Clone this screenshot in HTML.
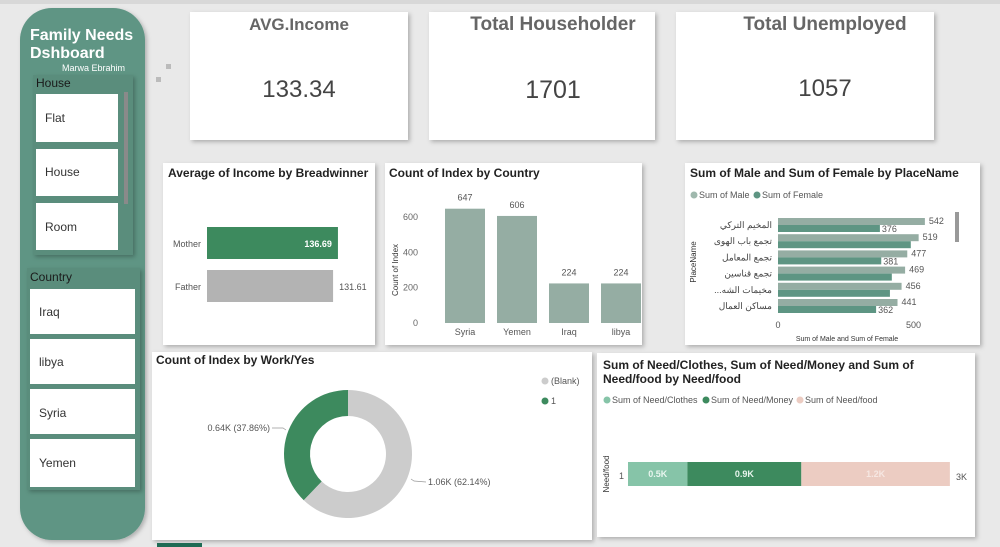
<!DOCTYPE html>
<html><head><meta charset="utf-8"><style>
html,body{margin:0;padding:0;background:#e8e8e8;width:1000px;height:547px;overflow:hidden;font-family:"Liberation Sans","Noto Sans CJK SC",sans-serif}
svg text{font-family:"Liberation Sans","Noto Sans CJK SC",sans-serif}
</style></head><body>
<svg id="dash" width="1000" height="547" viewBox="0 0 1000 547" xmlns="http://www.w3.org/2000/svg">
<defs><filter id="sh" x="-10%" y="-10%" width="120%" height="120%"><feDropShadow dx="2" dy="2" stdDeviation="2" flood-color="#000" flood-opacity="0.25"/></filter></defs>
<rect x="0" y="0" width="1000" height="547" fill="#e9e9e9"/>
<rect x="0" y="0" width="1000" height="4" fill="#d8d8d8"/>
<!-- sidebar -->
<g>
<rect x="20" y="8" width="125" height="532" rx="32" fill="#5f9584" filter="url(#sh)"/>
<text x="30" y="40" font-size="16" font-weight="bold" fill="#fff">Family Needs</text>
<text x="30" y="58" font-size="16" font-weight="bold" fill="#fff">Dshboard</text>
<text x="62" y="71" font-size="9" fill="#fff">Marwa Ebrahim</text>
<rect x="33" y="75" width="100" height="180" fill="#5a8d7c" filter="url(#sh)"/>
<text x="36" y="87" font-size="12" fill="#1a1a1a">House</text>
<rect x="124" y="92" width="4" height="112" fill="#8a8a8a"/>
<g><rect x="36" y="94" width="82" height="48" fill="#fff"/><text x="45" y="122" font-size="12" fill="#333">Flat</text></g>
<g><rect x="36" y="149" width="82" height="47" fill="#fff"/><text x="45" y="176" font-size="12" fill="#333">House</text></g>
<g><rect x="36" y="203" width="82" height="47" fill="#fff"/><text x="45" y="231" font-size="12" fill="#333">Room</text></g>
<rect x="27" y="268" width="113" height="222" fill="#5a8d7c" filter="url(#sh)"/>
<text x="30" y="281" font-size="12" fill="#1a1a1a">Country</text>
<g><rect x="30" y="289" width="105" height="45" fill="#fff"/><text x="39" y="316" font-size="12" fill="#333">Iraq</text></g>
<g><rect x="30" y="339" width="105" height="45" fill="#fff"/><text x="39" y="366" font-size="12" fill="#333">libya</text></g>
<g><rect x="30" y="389" width="105" height="45" fill="#fff"/><text x="39" y="417" font-size="12" fill="#333">Syria</text></g>
<g><rect x="30" y="439" width="105" height="48" fill="#fff"/><text x="39" y="467" font-size="12" fill="#333">Yemen</text></g>
</g>
<rect x="166" y="64" width="5" height="5" fill="#bbb"/><rect x="156" y="77" width="5" height="5" fill="#bbb"/>
<!-- KPI cards -->
<g><rect x="190" y="12" width="218" height="128" fill="#fff" filter="url(#sh)"/>
<text x="299" y="30" font-size="17" font-weight="bold" fill="#666" text-anchor="middle">AVG.Income</text>
<text x="299" y="97" font-size="24" fill="#444" text-anchor="middle">133.34</text></g>
<g><rect x="429" y="12" width="226" height="128" fill="#fff" filter="url(#sh)"/>
<text x="553" y="30" font-size="19" font-weight="bold" fill="#666" text-anchor="middle">Total Householder</text>
<text x="553" y="98" font-size="25" fill="#444" text-anchor="middle">1701</text></g>
<g><rect x="676" y="12" width="258" height="128" fill="#fff" filter="url(#sh)"/>
<text x="825" y="30" font-size="19" font-weight="bold" fill="#666" text-anchor="middle">Total Unemployed</text>
<text x="825" y="96" font-size="24" fill="#444" text-anchor="middle">1057</text></g>
<!-- cards -->
<rect x="163" y="163" width="212" height="182" fill="#fff" filter="url(#sh)"/>
<text x="168" y="177" font-size="12" font-weight="bold" fill="#222">Average of Income by Breadwinner</text>
<rect x="385" y="163" width="257" height="182" fill="#fff" filter="url(#sh)"/>
<text x="389" y="177" font-size="12" font-weight="bold" fill="#222">Count of Index by Country</text>
<text transform="translate(398,270) rotate(-90)" font-size="8" fill="#333" text-anchor="middle">Count of Index</text>
<rect x="685" y="163" width="295" height="182" fill="#fff" filter="url(#sh)"/>
<text x="690" y="177" font-size="12" font-weight="bold" fill="#222">Sum of Male and Sum of Female by PlaceName</text>
<circle cx="694" cy="195" r="3.5" fill="#9fb8ad"/><text x="699" y="198" font-size="9" fill="#555">Sum of Male</text>
<circle cx="757" cy="195" r="3.5" fill="#5e9583"/><text x="762" y="198" font-size="9" fill="#555">Sum of Female</text>
<text transform="translate(696,262) rotate(-90)" font-size="8" fill="#333" text-anchor="middle">PlaceName</text>
<text x="847" y="341" font-size="7" fill="#333" text-anchor="middle">Sum of Male and Sum of Female</text>
<rect x="955" y="212" width="4" height="30" fill="#999"/>
<rect x="152" y="352" width="440" height="188" fill="#fff" filter="url(#sh)"/>
<text x="156" y="364" font-size="12" font-weight="bold" fill="#222">Count of Index by Work/Yes</text>
<rect x="597" y="353" width="378" height="184" fill="#fff" filter="url(#sh)"/>
<text x="603" y="369" font-size="12" font-weight="bold" fill="#222">Sum of Need/Clothes, Sum of Need/Money and Sum of</text>
<text x="603" y="383" font-size="12" font-weight="bold" fill="#222">Need/food by Need/food</text>
<circle cx="607" cy="400" r="3.5" fill="#86c4a8"/><text x="612" y="403" font-size="9" fill="#555">Sum of Need/Clothes</text>
<circle cx="706" cy="400" r="3.5" fill="#3d8a5e"/><text x="711" y="403" font-size="9" fill="#555">Sum of Need/Money</text>
<circle cx="800" cy="400" r="3.5" fill="#ecccc2"/><text x="805" y="403" font-size="9" fill="#555">Sum of Need/food</text>
<text transform="translate(609,474) rotate(-90)" font-size="8" fill="#333" text-anchor="middle">Need/food</text>
<text x="619" y="479" font-size="9" fill="#555">1</text>
<text x="956" y="480" font-size="9" fill="#555">3K</text>
<circle cx="545" cy="381" r="3.5" fill="#ccc"/><text x="551" y="384" font-size="9" fill="#555">(Blank)</text>
<circle cx="545" cy="401" r="3.5" fill="#3d8a5e"/><text x="551" y="404" font-size="9" fill="#555">1</text>
<rect x="157" y="543" width="45" height="4" fill="#1f6b54"/>
<g id="charts"></g>
</svg>
<script>
const incomeCats=["Mother","Father"];
const incomeVals=[136.69,131.61];
const countryCats=["Syria","Yemen","Iraq","libya"];
const countryVals=[647,606,224,224];
const countryTicks=[0,200,400,600];
const placeCats=["المخيم التركي","تجمع باب الهوى","تجمع المعامل","تجمع قناسين","...مخيمات الشه","مساكن العمال"];
const maleVals=[542,519,477,469,456,441];
const femaleVals=[376,490,381,420,413,362];
const placeTicks=[0,500];
const workCats=["1","(Blank)"];
const workVals=[644,1057];
const workLabels=["0.64K (37.86%)","1.06K (62.14%)"];
const needCats=["Sum of Need/Clothes","Sum of Need/Money","Sum of Need/food"];
const needVals=[480,920,1200];
const needLabels=["0.5K","0.9K","1.2K"];

const NS="http://www.w3.org/2000/svg";
const G=document.getElementById('charts');
function mk(t,a,txt){const e=document.createElementNS(NS,t);for(const k in a)e.setAttribute(k,a[k]);if(txt!==undefined)e.textContent=txt;G.appendChild(e);return e;}

// income
const ix=v=>207+v*0.958;
incomeCats.forEach((c,i)=>{
  const y=227+i*43;
  const r=mk('rect',{x:207,y:y,width:ix(incomeVals[i])-207,height:32,fill:i==0?'#3d8a5e':'#b3b3b3'});
  
  
  const l=mk('text',{x:201,y:y+20,'font-size':9,fill:'#555','text-anchor':'end'},c);
  
  
  const v=i==0?mk('text',{x:ix(incomeVals[i])-6,y:y+20,'font-size':9,fill:'#fff','text-anchor':'end','font-weight':'bold'},incomeVals[i].toFixed(2)):mk('text',{x:ix(incomeVals[i])+6,y:y+20,'font-size':9,fill:'#555'},incomeVals[i].toFixed(2));
  
  
});
// country
const cy=v=>323-v*(106/600);
countryTicks.forEach(t=>{const e=mk('text',{x:418,y:cy(t)+3,'font-size':9,fill:'#666','text-anchor':'end'},t);
  
  });
countryCats.forEach((c,i)=>{
  const x=445+i*52;
  const r=mk('rect',{x:x,y:cy(countryVals[i]),width:40,height:323-cy(countryVals[i]),fill:'#95ada3'});
  
  
  const v=mk('text',{x:x+20,y:cy(countryVals[i])-8,'font-size':9,fill:'#555','text-anchor':'middle'},countryVals[i]);
  
  
  const l=mk('text',{x:x+20,y:335,'font-size':9,fill:'#555','text-anchor':'middle'},c);
  
  
});
// place
const px=v=>778+v*0.271;
placeTicks.forEach(t=>{const e=mk('text',{x:px(t),y:328,'font-size':9,fill:'#555','text-anchor':'middle'},t);
  
  });
placeCats.forEach((c,i)=>{
  const y=218+i*16.2;
  const m=mk('rect',{x:778,y:y,width:px(maleVals[i])-778,height:7,fill:'#95ada3'});
  
  
  const f=mk('rect',{x:778,y:y+7,width:px(femaleVals[i])-778,height:7,fill:'#5e9583'});
  
  
  const l=mk('text',{x:772,y:y+10,'font-size':9,fill:'#444','text-anchor':'end'},c);
  
  
  const mv=mk('text',{x:px(maleVals[i])+4,y:y+6,'font-size':9,fill:'#555'},maleVals[i]);
  
  
  if(i==0||i==2||i==5){const fv=mk('text',{x:px(femaleVals[i])+2,y:y+14,'font-size':9,fill:'#555'},femaleVals[i]);
  
  }
});
// donut
const cxD=348,cyD=454,R=64,r0=38;
const tot=workVals.reduce((a,b)=>a+b,0);
let a0=0;
const cols=['#3d8a5e','#cccccc'];
workVals.forEach((v,i)=>{
  const a1=a0+v/tot*2*Math.PI;
  // green goes counter-clockwise from top: draw negative direction for i=0
  let s,e;
  if(i==0){s=-a1;e=0;}else{s=0;e=2*Math.PI-workVals[0]/tot*2*Math.PI;}
  const p=(ang,rad)=>[cxD+rad*Math.sin(ang),cyD-rad*Math.cos(ang)];
  const [x1,y1]=p(s,R),[x2,y2]=p(e,R),[x3,y3]=p(e,r0),[x4,y4]=p(s,r0);
  const large=(e-s)>Math.PI?1:0;
  const path=mk('path',{d:`M${x1},${y1}A${R},${R} 0 ${large} 1 ${x2},${y2}L${x3},${y3}A${r0},${r0} 0 ${large} 0 ${x4},${y4}Z`,fill:cols[i]});
  
  
  a0=a1;
});
const wl0=mk('text',{x:270,y:431,'font-size':9,fill:'#555','text-anchor':'end'},workLabels[0]);


mk('path',{d:'M272,428 L283,428 L286,430',stroke:'#999',fill:'none','stroke-width':0.7});
const wl1=mk('text',{x:428,y:485,'font-size':9,fill:'#555'},workLabels[1]);


mk('path',{d:'M411,479 L414,481 L426,482',stroke:'#999',fill:'none','stroke-width':0.7});
// need
const ncol=['#86c4a8','#3d8a5e','#ecccc2'];
const nx=v=>628+v*0.1238;
let acc=0;
needVals.forEach((v,i)=>{
  const r=mk('rect',{x:nx(acc),y:462,width:nx(acc+v)-nx(acc),height:24,fill:ncol[i]});
  
  
  const t=mk('text',{x:(nx(acc)+nx(acc+v))/2,y:477,'font-size':9,fill:i==2?'#f6e7e2':'#e8f5ee','text-anchor':'middle','font-weight':'bold'},needLabels[i]);
  
  
  acc+=v;
});
</script>
</body></html>
